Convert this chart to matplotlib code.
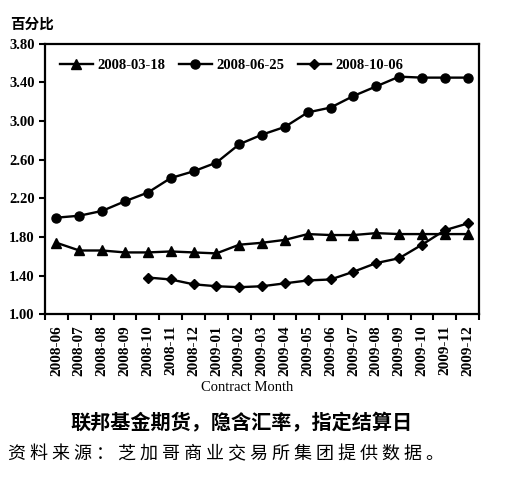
import numpy as np
import matplotlib
matplotlib.use('Agg')
import matplotlib.pyplot as plt
from matplotlib.ticker import FixedLocator, FormatStrFormatter

# ── Data ──────────────────────────────────────────────────────────────────────
months = ['2008-06', '2008-07', '2008-08', '2008-09', '2008-10', '2008-11',
          '2008-12', '2009-01', '2009-02', '2009-03', '2009-04', '2009-05',
          '2009-06', '2009-07', '2009-08', '2009-09', '2009-10', '2009-11',
          '2009-12']
s_0318 = [1.74, 1.66, 1.66, 1.64, 1.64, 1.65, 1.64, 1.63, 1.72, 1.74,
          1.77, 1.83, 1.82, 1.82, 1.84, 1.83, 1.83, 1.83, 1.83]
s_0625 = [2.00, 2.02, 2.07, 2.17, 2.26, 2.41, 2.48, 2.57, 2.76, 2.86,
          2.94, 3.09, 3.14, 3.26, 3.36, 3.46, 3.45, 3.45, 3.45]
s_1006 = [np.nan, np.nan, np.nan, np.nan, 1.38, 1.36, 1.31, 1.29, 1.28, 1.29,
          1.32, 1.35, 1.36, 1.44, 1.53, 1.58, 1.72, 1.87, 1.94]
series_names = ['2008-03-18', '2008-06-25', '2008-10-06']
y_ticks = [1.00, 1.40, 1.80, 2.20, 2.60, 3.00, 3.40, 3.80]

y_label = '百分比'
title = '联邦基金期货，隐含汇率，指定结算日'
source = '资料来源：芝加哥商业交易所集团提供数据。'

serif = ['Liberation Serif', 'DejaVu Serif']
cjk = ['Noto Sans CJK SC', 'DejaVu Sans']

fig = plt.figure(figsize=(5.3, 4.98), dpi=100)
ax = fig.add_axes([0.085, 0.369, 0.819, 0.543])

x = np.arange(len(months))
kw = dict(color='black', linewidth=1.7, markersize=6.5)
ax.plot(x, s_0318, marker='^', label=series_names[0], **kw)
ax.plot(x, s_0625, marker='o', label=series_names[1], **kw)
ax.plot(x, s_1006, marker='D', label=series_names[2],
        **{**kw, 'markersize': 5.5})

ax.set_xlim(-0.5, len(months) - 0.5)
ax.set_ylim(1.00, 3.80)
ax.yaxis.set_major_locator(FixedLocator(y_ticks))
ax.yaxis.set_major_formatter(FormatStrFormatter('%.2f'))

# ticks at category boundaries, labels centred on categories
ax.set_xticks(np.arange(-0.5, len(months), 1.0))
ax.set_xticklabels([])
ax.set_xticks(x, minor=True)
ax.set_xticklabels(months, minor=True, rotation=90, fontsize=11,
                   family=serif, fontweight='bold')
ax.tick_params(axis='x', which='minor', length=0, pad=8)
ax.tick_params(axis='x', which='major', direction='out', length=4, width=1.5)
ax.tick_params(axis='y', direction='out', length=4, width=1.5)
for lab in ax.get_yticklabels():
    lab.set_family(serif)
    lab.set_fontweight('bold')
    lab.set_fontsize(10.5)
for sp in ax.spines.values():
    sp.set_linewidth(1.6)

ax.set_xlabel('Contract Month', family=serif, fontsize=10.5, va='center')
ax.xaxis.set_label_coords(0.465, -0.272)

ax.legend(loc='upper left', bbox_to_anchor=(0.0, 1.0), ncol=3, frameon=False,
          prop={'family': serif, 'size': 10.5, 'weight': 'bold'},
          handlelength=2.3, handletextpad=0.3, columnspacing=0.9,
          borderaxespad=0.6)

fig.text(0.02, 0.952, y_label, family=cjk, fontsize=10.5, fontweight='bold',
         va='center', ha='left')
fig.text(0.456, 0.151, title, family=cjk,
         fontsize=14.5, fontweight='bold', ha='center', va='center')
fig.text(0.015, 0.088, ' '.join(source), family=cjk,
         fontsize=13, ha='left', va='center')

fig.savefig('out.png', dpi=100)
